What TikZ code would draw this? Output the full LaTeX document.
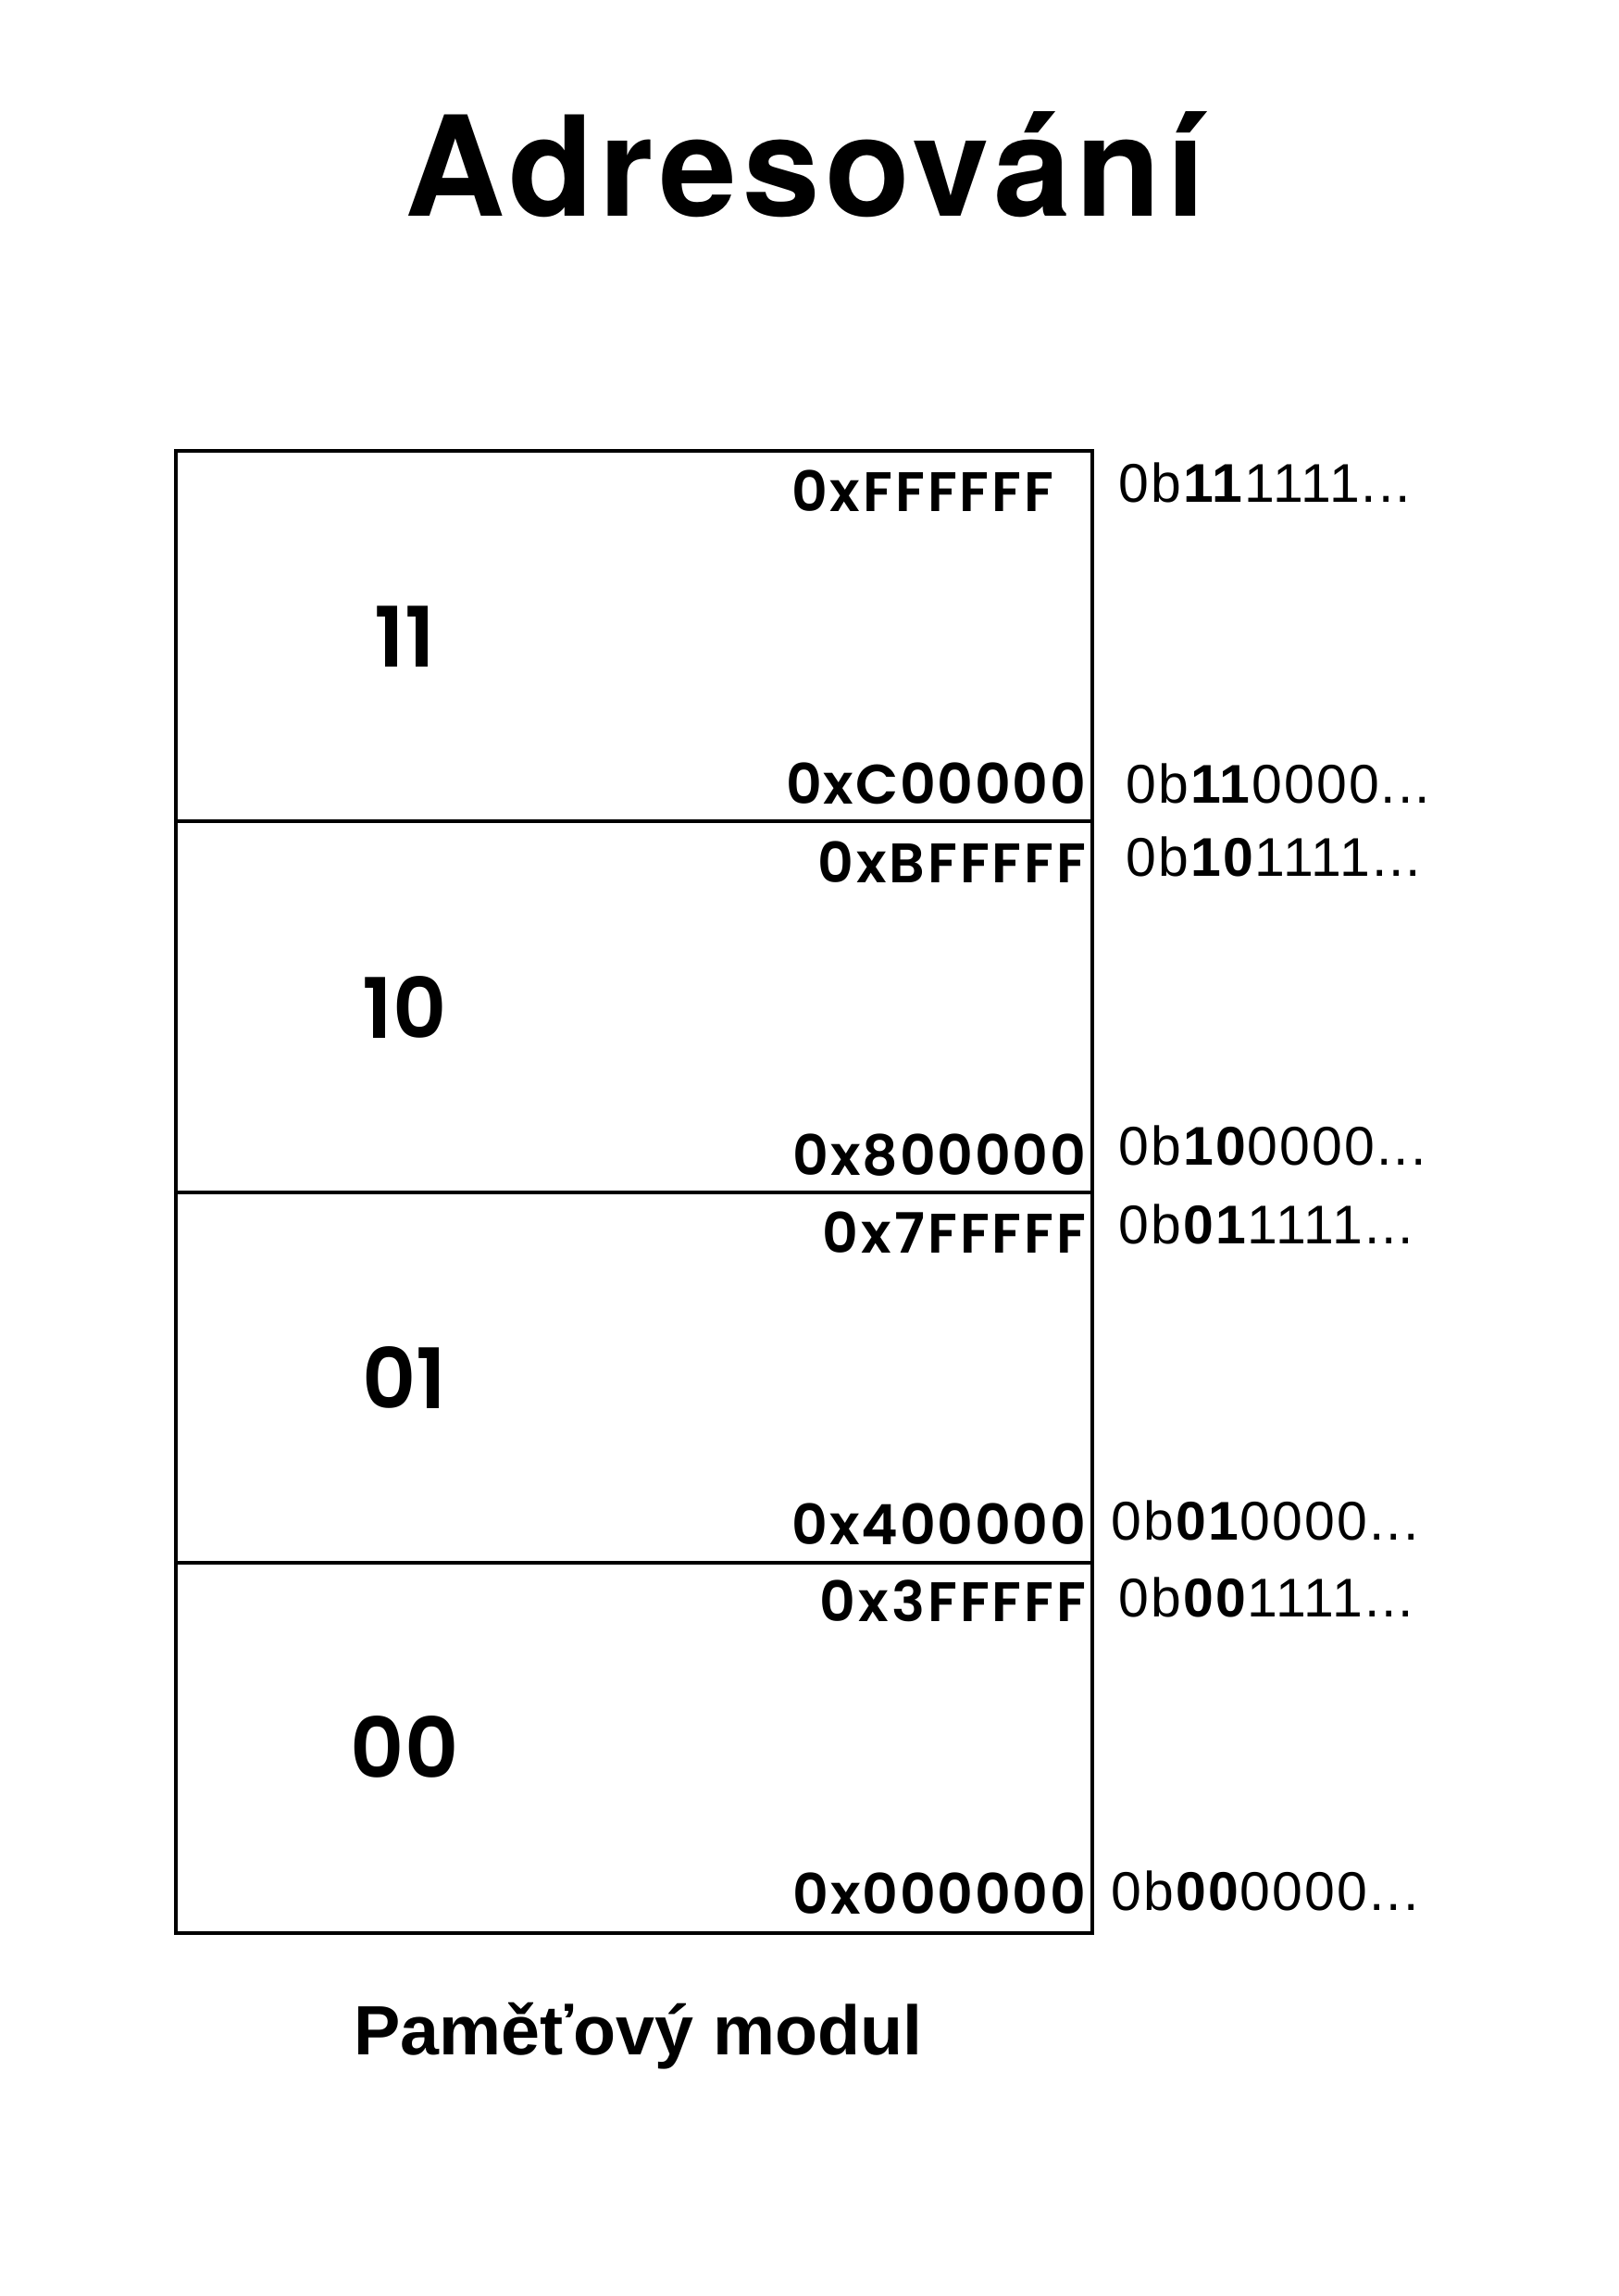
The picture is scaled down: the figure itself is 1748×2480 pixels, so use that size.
\documentclass[tikz,border=0pt]{standalone}
\usepackage{fontspec}
\setmainfont{Liberation Sans}
\newfontfamily\titlefont[LetterSpace=4]{TeX Gyre Heros}
\newfontfamily\binfont[LetterSpace=3.5]{Liberation Sans}
\newfontfamily\hexfont{Poppins}[UprightFont=* SemiBold]
\newfontfamily\hexzfont{Poppins}[UprightFont=* SemiBold,LetterSpace=3]
\newfontfamily\hexffont{Poppins}[UprightFont=* SemiBold,LetterSpace=5]
\begin{document}
\begin{tikzpicture}[x=0.33952pt,y=-0.33952pt,
  hexz/.style={anchor=base east,inner sep=0pt,font=\hexzfont\fontsize{20.4}{24}\selectfont},
  hexf/.style={anchor=base east,inner sep=0pt,font=\hexffont\fontsize{20.4}{24}\selectfont},
  binlbl/.style={anchor=base west,inner sep=0pt,font=\binfont\fontsize{20}{24}\selectfont},
  reglbl/.style={anchor=base,inner sep=0pt,font=\hexfont\fontsize{30.6}{36}\selectfont},
  memline/.style={line width=1.3pt}]
\useasboundingbox (0,0) rectangle (1748,2480);
\fill[white] (0,0) rectangle (1748,2480);
\node[anchor=base,inner sep=0pt,font=\titlefont\bfseries\fontsize{51}{60}\selectfont] (title) at (870,234) {Adresování};
% memory box
\draw[memline] (190,487) rectangle (1180,2088);
\coordinate (d1l) at (190,887); \coordinate (d1r) at (1180,887);
\coordinate (d2l) at (190,1288); \coordinate (d2r) at (1180,1288);
\coordinate (d3l) at (190,1688); \coordinate (d3r) at (1180,1688);
\draw[memline] (d1l) -- (d1r);
\draw[memline] (d2l) -- (d2r);
\draw[memline] (d3l) -- (d3r);
% region labels
\node[reglbl] (r11) at (437,720) {11};
\node[reglbl] (r10) at (437,1121) {10};
\node[reglbl] (r01) at (437,1521) {01};
\node[reglbl] (r00) at (437,1920) {00};
% hex labels
\node[hexf] (h1) at (1139,552) {0xFFFFFF};
\node[hexz] (h2) at (1174,868) {0xC00000};
\node[hexf] (h3) at (1174,953) {0xBFFFFF};
\node[hexz] (h4) at (1174,1269) {0x800000};
\node[hexf] (h5) at (1174,1353) {0x7FFFFF};
\node[hexz] (h6) at (1174,1668) {0x400000};
\node[hexf] (h7) at (1174,1751) {0x3FFFFF};
\node[hexz] (h8) at (1174,2067) {0x000000};
% binary labels
\node[binlbl] (b1) at (1208,542) {0b\textbf{11}1111...};
\node[binlbl] (b2) at (1216,867) {0b\textbf{11}0000...};
\node[binlbl] (b3) at (1216,946) {0b\textbf{10}1111...};
\node[binlbl] (b4) at (1208,1258) {0b\textbf{10}0000...};
\node[binlbl] (b5) at (1208,1343) {0b\textbf{01}1111...};
\node[binlbl] (b6) at (1200,1663) {0b\textbf{01}0000...};
\node[binlbl] (b7) at (1208,1746) {0b\textbf{00}1111...};
\node[binlbl] (b8) at (1200,2063) {0b\textbf{00}0000...};
% caption
\node[anchor=base west,inner sep=0pt,font=\bfseries\fontsize{25.6}{30}\selectfont] (cap) at (382,2219) {Paměťový modul};
\end{tikzpicture}
\end{document}
